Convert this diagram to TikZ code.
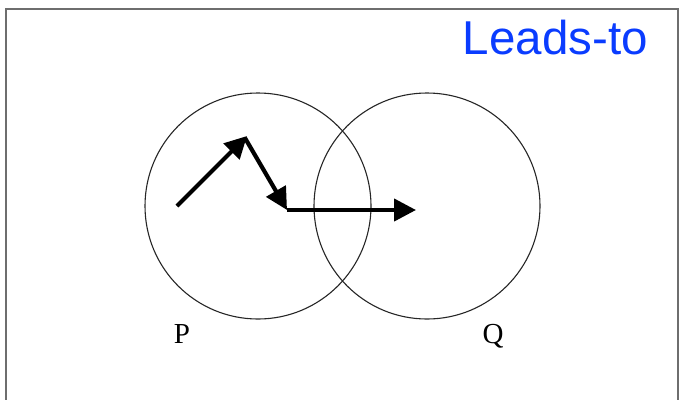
\documentclass[tikz,border=0pt]{standalone}
\usepackage{fontspec}
\setmainfont{Liberation Serif}
\newfontfamily\arialfont{Liberation Sans}
\usetikzlibrary{arrows.meta}
\definecolor{frameGray}{HTML}{6E6E6E}
\definecolor{titleBlue}{HTML}{0A3CFF}
\tikzset{
  setcircle/.style={draw=black!85, line width=1.1bp, circle, minimum size=226bp, inner sep=0pt},
  movearrow/.style={line width=4.2bp, -{Triangle[length=22bp,width=22bp]}},
  setlabel/.style={font=\fontsize{29bp}{32bp}\selectfont, inner sep=0pt, anchor=base},
}
\begin{document}
\begin{tikzpicture}[x=1bp,y=-1bp]
\useasboundingbox (0,0) rectangle (681,399);
\draw[frameGray, line width=2.2bp] (6,402) -- (6,9) -- (678,9) -- (678,402);
\node[titleBlue, font=\arialfont\fontsize{47.5bp}{50bp}\selectfont, anchor=base east, inner sep=0pt] (title) at (648,54) {Leads-to};
\node[setcircle] (P) at (258,206) {};
\node[setcircle] (Q) at (427,206) {};
\node[setlabel] (plabel) at (182,343) {P};
\node[setlabel] (qlabel) at (493,343) {Q};
\coordinate (a0) at (177,206);
\coordinate (a1) at (247,136);
\coordinate (b0) at (245,138);
\coordinate (b1) at (287,210);
\coordinate (c0) at (287,210);
\coordinate (c1) at (416,210);
\draw[movearrow] (a0) -- (a1);
\draw[movearrow] (b0) -- (b1);
\draw[movearrow] (c0) -- (c1);
\end{tikzpicture}
\end{document}
